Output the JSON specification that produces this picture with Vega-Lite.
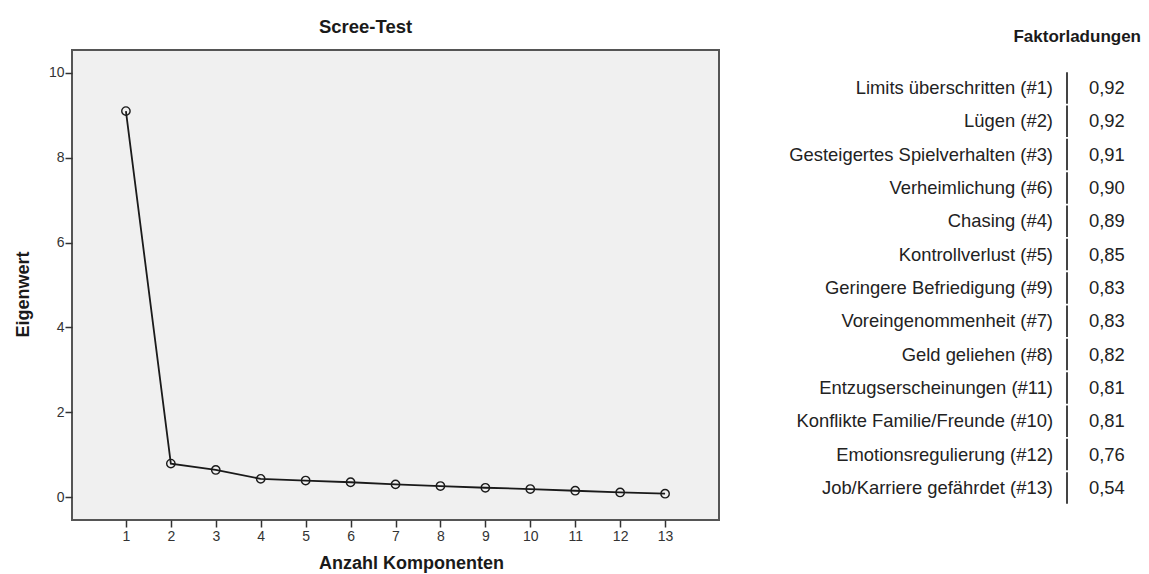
{
  "$schema": "https://vega.github.io/schema/vega-lite/v6.json",
  "padding": {"left": 13, "top": 16, "right": 5, "bottom": 0},
  "bounds": "flush",
  "spacing": 22,
  "config": {
    "font": "Liberation Sans",
    "view": {"stroke": null},
    "locale": {
      "number": {"decimal": ",", "thousands": ".", "grouping": [3], "currency": ["", " €"]}
    }
  },
  "datasets": {
    "eigen": [
      {"komponente": 1, "eigenwert": 9.10},
      {"komponente": 2, "eigenwert": 0.79},
      {"komponente": 3, "eigenwert": 0.64},
      {"komponente": 4, "eigenwert": 0.43},
      {"komponente": 5, "eigenwert": 0.39},
      {"komponente": 6, "eigenwert": 0.35},
      {"komponente": 7, "eigenwert": 0.30},
      {"komponente": 8, "eigenwert": 0.26},
      {"komponente": 9, "eigenwert": 0.22},
      {"komponente": 10, "eigenwert": 0.19},
      {"komponente": 11, "eigenwert": 0.15},
      {"komponente": 12, "eigenwert": 0.11},
      {"komponente": 13, "eigenwert": 0.08}
    ],
    "ladungen": [
      {"item": "Limits überschritten (#1)", "ladung": 0.92},
      {"item": "Lügen (#2)", "ladung": 0.92},
      {"item": "Gesteigertes Spielverhalten (#3)", "ladung": 0.91},
      {"item": "Verheimlichung (#6)", "ladung": 0.90},
      {"item": "Chasing (#4)", "ladung": 0.89},
      {"item": "Kontrollverlust (#5)", "ladung": 0.85},
      {"item": "Geringere Befriedigung (#9)", "ladung": 0.83},
      {"item": "Voreingenommenheit (#7)", "ladung": 0.83},
      {"item": "Geld geliehen (#8)", "ladung": 0.82},
      {"item": "Entzugserscheinungen (#11)", "ladung": 0.81},
      {"item": "Konflikte Familie/Freunde (#10)", "ladung": 0.81},
      {"item": "Emotionsregulierung (#12)", "ladung": 0.76},
      {"item": "Job/Karriere gefährdet (#13)", "ladung": 0.54}
    ]
  },
  "hconcat": [
    {
      "width": 647,
      "height": 470,
      "title": {"text": "Scree-Test", "fontSize": 18.5, "fontWeight": "bold", "color": "#1a1a1a", "dx": -30, "offset": 14},
      "data": {"name": "eigen"},
      "view": {"fill": "#f0f0f0", "stroke": "#555555", "strokeWidth": 2},
      "encoding": {
        "x": {
          "field": "komponente",
          "type": "quantitative",
          "scale": {"domain": [-0.2, 14.2], "nice": false, "zero": false},
          "axis": {
            "title": "Anzahl Komponenten",
            "values": [1, 2, 3, 4, 5, 6, 7, 8, 9, 10, 11, 12, 13],
            "format": "d",
            "domain": false,
            "grid": false,
            "tickSize": 7,
            "tickWidth": 1.5,
            "tickColor": "#333333",
            "labelFontSize": 14,
            "labelColor": "#333333",
            "labelPadding": 2,
            "titleFontSize": 18,
            "titleFontWeight": "bold",
            "titleColor": "#1a1a1a",
            "titlePadding": 11,
            "titleX": 339
          }
        },
        "y": {
          "field": "eigenwert",
          "type": "quantitative",
          "scale": {"domain": [-0.54, 10.54], "nice": false, "zero": false},
          "axis": {
            "title": "Eigenwert",
            "values": [0, 2, 4, 6, 8, 10],
            "format": "d",
            "domain": false,
            "grid": false,
            "tickSize": 7,
            "tickWidth": 1.5,
            "tickColor": "#333333",
            "labelFontSize": 14,
            "labelColor": "#333333",
            "labelPadding": 1,
            "titleFontSize": 18,
            "titleFontWeight": "bold",
            "titleColor": "#1a1a1a",
            "titlePadding": 16,
            "titleY": 244
          }
        }
      },
      "layer": [
        {"mark": {"type": "line", "color": "#1a1a1a", "strokeWidth": 1.8}},
        {"mark": {"type": "point", "shape": "circle", "filled": false, "size": 70, "stroke": "#1a1a1a", "strokeWidth": 1.4, "opacity": 1}}
      ]
    },
    {
      "width": 400,
      "height": 470,
      "title": {"text": "Faktorladungen", "anchor": "end", "fontSize": 17, "fontWeight": "bold", "color": "#1a1a1a", "offset": 4},
      "data": {"name": "ladungen"},
      "encoding": {
        "y": {
          "field": "item",
          "type": "nominal",
          "sort": null,
          "scale": {"paddingInner": 0, "paddingOuter": 0.55, "align": 0.58},
          "axis": null
        }
      },
      "layer": [
        {
          "mark": {"type": "text", "align": "right", "baseline": "middle", "fontSize": 18.4, "color": "#222222"},
          "encoding": {
            "x": {"datum": 78, "type": "quantitative", "scale": {"domain": [0, 100]}, "axis": null},
            "text": {"field": "item"}
          }
        },
        {
          "mark": {"type": "tick", "orient": "vertical", "size": 31.5, "thickness": 2, "color": "#444444", "opacity": 1},
          "encoding": {
            "x": {"datum": 81.5, "type": "quantitative"}
          }
        },
        {
          "mark": {"type": "text", "align": "left", "baseline": "middle", "fontSize": 18.4, "color": "#222222"},
          "encoding": {
            "x": {"datum": 87, "type": "quantitative"},
            "text": {"field": "ladung", "type": "quantitative", "format": ".2f"}
          }
        }
      ]
    }
  ]
}
